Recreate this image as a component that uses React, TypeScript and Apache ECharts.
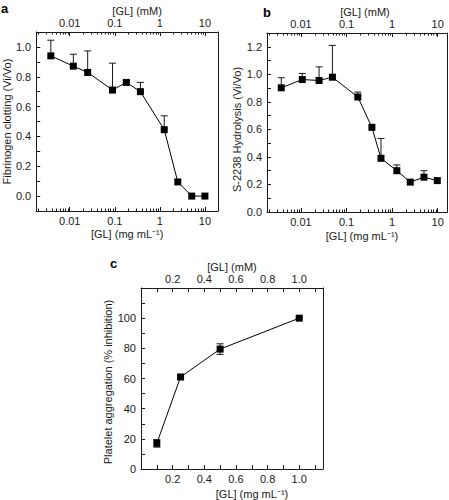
import React, { useEffect, useRef } from "react";
import * as echarts from "echarts";

// Panel a: fibrinogen clotting
const xA = [0.0038, 0.012, 0.025, 0.089, 0.18, 0.37, 1.25, 2.5, 5.1, 10];
const yA = [0.94, 0.871, 0.829, 0.711, 0.762, 0.7, 0.445, 0.095, 0.0, 0.0];
const hiA = [1.045, 0.951, 0.973, 0.891, 0.775, 0.762, 0.538, 0.107, 0.0, 0.0];

// Panel b: S-2238 hydrolysis
const xB = [0.0037, 0.0107, 0.025, 0.049, 0.177, 0.36, 0.57, 1.27, 2.5, 5.0, 9.8];
const yB = [0.902, 0.962, 0.955, 0.979, 0.835, 0.615, 0.39, 0.3, 0.217, 0.253, 0.228];
const hiB = [0.975, 1.006, 1.054, 1.21, 0.871, 0.615, 0.534, 0.342, 0.217, 0.3, 0.228];

// Panel c: platelet aggregation
const xC = [0.1, 0.25, 0.5, 1.0];
const yC = [17, 61, 79.5, 100];
const errC = [2.5, 1.5, 3.5, 0.6];

// log-axis minor tick positions
const decades = [0.001, 0.01, 0.1, 1, 10];
const mults = [2, 3, 4, 5, 6, 7, 8, 9];

const FONT = "'Liberation Sans', Arial, Helvetica, sans-serif";
const INK = "#1a1a1a";
const lineStyle = { color: INK, width: 1 };

function fmtLog(v: number) {
  const l = Math.log10(v);
  if (Math.abs(l - Math.round(l)) > 1e-6) return "";
  return String(Number(v.toPrecision(2)));
}

function fmtEven(lo: number, hi: number, step: number, digits: number) {
  return (v: number) => {
    const k = Math.round(v / step);
    if (Math.abs(v / step - k) > 1e-6) return "";
    if (k % 2 !== 0) return "";
    if (v < lo - 1e-9 || v > hi + 1e-9) return "";
    return v.toFixed(digits);
  };
}

const labelBase = { color: INK, fontSize: 11, fontFamily: FONT };

function xAxisCfg(o: any) {
  return {
    gridIndex: o.grid,
    type: o.type,
    position: o.position,
    min: o.min,
    max: o.max,
    interval: o.interval,
    logBase: o.type === "log" ? 10 : undefined,
    axisLine: { show: true, onZero: false, lineStyle },
    axisTick: { show: true, inside: true, length: 4, lineStyle },
    axisLabel: {
      ...labelBase,
      margin: 4,
      formatter: o.formatter,
      showMinLabel: o.type === "log" ? false : undefined,
      showMaxLabel: false,
    },
    splitLine: { show: false },
    name: o.name,
    nameLocation: "middle",
    nameGap: o.nameGap,
    nameTextStyle: { ...labelBase, padding: o.padding || 0 },
  };
}

function yAxisCfg(o: any) {
  return {
    gridIndex: o.grid,
    type: "value",
    position: o.position,
    min: o.min,
    max: o.max,
    interval: o.interval,
    axisLine: { show: true, onZero: false, lineStyle },
    axisTick: { show: o.position === "left", inside: true, length: 4, lineStyle },
    axisLabel: {
      ...labelBase,
      show: o.position === "left",
      margin: 5,
      formatter: o.formatter,
    },
    splitLine: { show: false },
    name: o.name,
    nameLocation: "middle",
    nameGap: o.nameGap,
    nameTextStyle: { ...labelBase, padding: o.padding || 0 },
  };
}

function errorRender(symmetric: boolean) {
  return (params: any, api: any) => {
    const x = api.value(0);
    const hi = api.value(2);
    const lo = api.value(3);
    if (Math.abs(hi - lo) < 1e-9) return { type: "group", children: [] };
    const pHi = api.coord([x, hi]);
    const pLo = api.coord([x, lo]);
    const cw = 3.5;
    const st = { stroke: INK, lineWidth: 1 };
    const children: any[] = [
      { type: "line", shape: { x1: pHi[0], y1: pHi[1], x2: pLo[0], y2: pLo[1] }, style: st },
      { type: "line", shape: { x1: pHi[0] - cw, y1: pHi[1], x2: pHi[0] + cw, y2: pHi[1] }, style: st },
    ];
    if (symmetric) {
      children.push({ type: "line", shape: { x1: pLo[0] - cw, y1: pLo[1], x2: pLo[0] + cw, y2: pLo[1] }, style: st });
    }
    return { type: "group", children };
  };
}

function minorRender(params: any, api: any) {
  const cs = params.coordSys;
  const p = api.coord([api.value(0), api.value(1)]);
  const x = Math.round(p[0]) + 0.5;
  if (x < cs.x + 1 || x > cs.x + cs.width - 1) return { type: "group", children: [] };
  const st = { stroke: INK, lineWidth: 1 };
  return {
    type: "group",
    children: [
      { type: "line", shape: { x1: x, y1: cs.y + cs.height, x2: x, y2: cs.y + cs.height - 2.5 }, style: st },
      { type: "line", shape: { x1: x, y1: cs.y, x2: x, y2: cs.y + 2.5 }, style: st },
    ],
  };
}

export default function App() {
  const ref = useRef<HTMLDivElement>(null);
  useEffect(() => {
    if (!ref.current) return;
    const chart = echarts.init(ref.current, undefined, { renderer: "svg" });

    const minMaxA = [0.0018, 19.5];
    const minMaxB = [0.0018, 16];
    const minors: number[] = [];
    decades.forEach((d) => mults.forEach((m) => minors.push(Number((d * m).toPrecision(3)))));

    const lineSeries = (xi: number, yi: number, xs: number[], ys: number[]) => ({
      type: "line",
      xAxisIndex: xi,
      yAxisIndex: yi,
      data: xs.map((x, i) => [x, ys[i]]),
      symbol: "rect",
      symbolSize: 7,
      itemStyle: { color: "#000" },
      lineStyle: { color: "#000", width: 1 },
      z: 5,
    });

    const option: any = {
      animation: false,
      backgroundColor: "#fff",
      grid: [
        { left: 35, top: 32, width: 183, height: 179 },
        { left: 267, top: 33, width: 180, height: 179 },
        { left: 141, top: 288, width: 182, height: 181 },
      ],
      xAxis: [
        xAxisCfg({ grid: 0, type: "log", position: "bottom", min: minMaxA[0], max: minMaxA[1], formatter: fmtLog, name: "[GL] (mg mL\u207B\u00B9)", nameGap: 17 }),
        xAxisCfg({ grid: 0, type: "log", position: "top", min: minMaxA[0], max: minMaxA[1], formatter: fmtLog, name: "[GL] (mM)", nameGap: 15, padding: [0, 0, 0, 20] }),
        xAxisCfg({ grid: 1, type: "log", position: "bottom", min: minMaxB[0], max: minMaxB[1], formatter: fmtLog, name: "[GL] (mg mL\u207B\u00B9)", nameGap: 18, padding: [0, 0, 0, 10] }),
        xAxisCfg({ grid: 1, type: "log", position: "top", min: minMaxB[0], max: minMaxB[1], formatter: fmtLog, name: "[GL] (mM)", nameGap: 15, padding: [0, 0, 0, 16] }),
        xAxisCfg({ grid: 2, type: "value", position: "bottom", min: 0, max: 1.15, interval: 0.1, formatter: fmtEven(0.2, 1.0, 0.1, 1), name: "[GL] (mg mL\u207B\u00B9)", nameGap: 19, padding: [0, 0, 0, 40] }),
        xAxisCfg({ grid: 2, type: "value", position: "top", min: 0, max: 1.15, interval: 0.1, formatter: fmtEven(0.2, 1.0, 0.1, 1), name: "[GL] (mM)", nameGap: 16 }),
      ],
      yAxis: [
        yAxisCfg({ grid: 0, position: "left", min: -0.1, max: 1.1, interval: 0.1, formatter: fmtEven(0, 1.0, 0.1, 1), name: "Fibrinogen clotting (Vi/Vo)", nameGap: 22 }),
        yAxisCfg({ grid: 0, position: "right", min: -0.1, max: 1.1 }),
        yAxisCfg({ grid: 1, position: "left", min: 0, max: 1.3, interval: 0.1, formatter: fmtEven(0, 1.2, 0.1, 1), name: "S-2238 Hydrolysis (Vi/Vo)", nameGap: 24, padding: [0, 14, 0, 0] }),
        yAxisCfg({ grid: 1, position: "right", min: 0, max: 1.3 }),
        yAxisCfg({ grid: 2, position: "left", min: 0, max: 120, interval: 10, formatter: fmtEven(0, 100, 10, 0), name: "Platelet aggregation (% inhibition)", nameGap: 24, padding: [0, 7, 0, 0] }),
        yAxisCfg({ grid: 2, position: "right", min: 0, max: 120 }),
      ],
      graphic: [
        { type: "text", left: 1, top: 2, style: { text: "a", fontSize: 13, fontWeight: "bold", fontFamily: FONT, fill: "#000" } },
        { type: "text", left: 263, top: 6, style: { text: "b", fontSize: 13, fontWeight: "bold", fontFamily: FONT, fill: "#000" } },
        { type: "text", left: 110, top: 257, style: { text: "c", fontSize: 13, fontWeight: "bold", fontFamily: FONT, fill: "#000" } },
      ],
      series: [
        { type: "custom", xAxisIndex: 0, yAxisIndex: 0, data: minors.map((v) => [v, -0.1]), renderItem: minorRender, silent: true },
        { type: "custom", xAxisIndex: 2, yAxisIndex: 2, data: minors.map((v) => [v, 0]), renderItem: minorRender, silent: true },
        { type: "custom", xAxisIndex: 0, yAxisIndex: 0, data: xA.map((x, i) => [x, yA[i], hiA[i], yA[i]]), renderItem: errorRender(false), z: 3 },
        { type: "custom", xAxisIndex: 2, yAxisIndex: 2, data: xB.map((x, i) => [x, yB[i], hiB[i], yB[i]]), renderItem: errorRender(false), z: 3 },
        { type: "custom", xAxisIndex: 4, yAxisIndex: 4, data: xC.map((x, i) => [x, yC[i], yC[i] + errC[i], yC[i] - errC[i]]), renderItem: errorRender(true), z: 3 },
        lineSeries(0, 0, xA, yA),
        lineSeries(2, 2, xB, yB),
        lineSeries(4, 4, xC, yC),
      ],
    };
    chart.setOption(option);
    return () => chart.dispose();
  }, []);
  return (
    <div
      ref={ref}
      style={{ position: "absolute", left: 0, top: 0, width: 449, height: 500, background: "#fff" }}
    />
  );
}
